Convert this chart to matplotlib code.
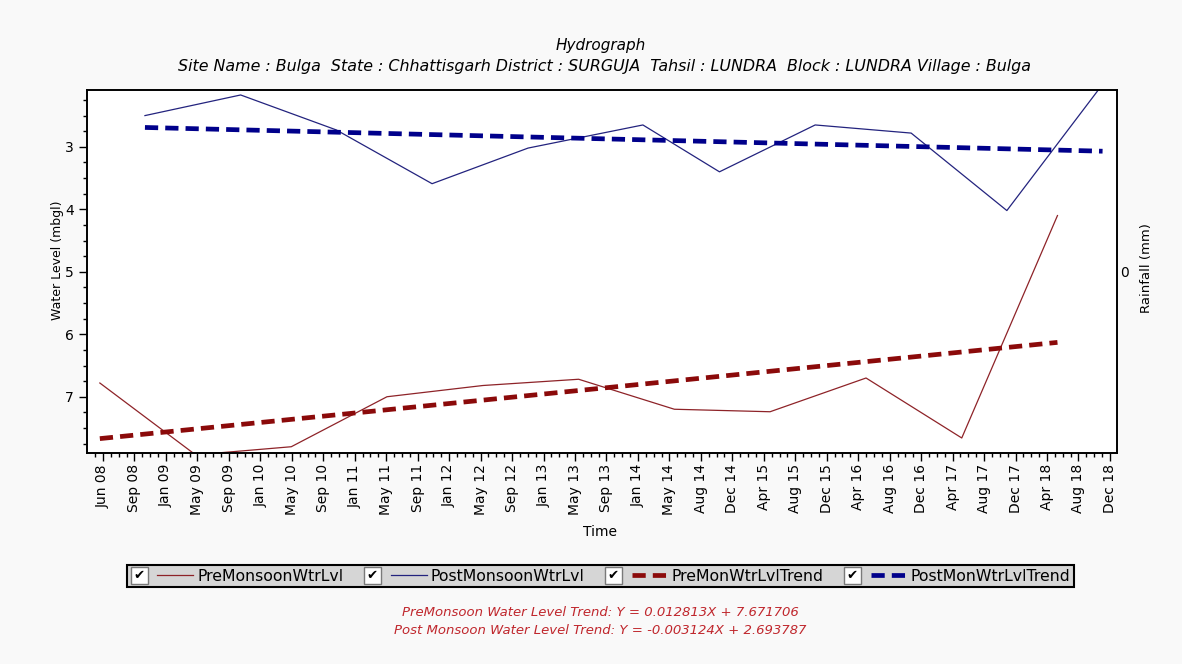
import matplotlib
matplotlib.use("Agg")
import matplotlib.pyplot as plt
import matplotlib.dates as mdates
from matplotlib.legend_handler import HandlerLine2D
from matplotlib.patches import Rectangle
from matplotlib.text import Text
import pandas as pd

# ---------------------------------------------------------------- data
pre_dates = pd.to_datetime(['2008-05-20', '2009-05-20', '2010-05-20', '2011-05-20',
                            '2012-05-20', '2013-05-20', '2014-05-20', '2015-05-20',
                            '2016-05-20', '2017-05-20', '2018-05-20'])
pre_level = [6.78, 7.93, 7.80, 7.00, 6.82, 6.72, 7.20, 7.24, 6.70, 7.66, 4.10]

post_dates = pd.to_datetime(['2008-11-08', '2009-11-08', '2010-11-08', '2011-11-08',
                             '2012-11-08', '2014-01-20', '2014-11-08', '2015-11-08',
                             '2016-11-08', '2017-11-08', '2018-11-08'])
post_level = [2.50, 2.17, 2.73, 3.59, 3.02, 2.65, 3.40, 2.65, 2.78, 4.02, 2.00]

# trend lines, end points
pre_trend_dates = pd.to_datetime(['2008-05-20', '2018-05-20'])
pre_trend = [7.67, 6.13]
post_trend_dates = pd.to_datetime(['2008-11-08', '2018-11-08'])
post_trend = [2.69, 3.07]

labels = ['PreMonsoonWtrLvl', 'PostMonsoonWtrLvl', 'PreMonWtrLvlTrend', 'PostMonWtrLvlTrend']
eq_pre = 'PreMonsoon Water Level Trend: Y = 0.012813X + 7.671706'
eq_post = 'Post Monsoon Water Level Trend: Y = -0.003124X + 2.693787'
title = 'Hydrograph'
subtitle = ('Site Name : Bulga  State : Chhattisgarh District : SURGUJA  '
            'Tahsil : LUNDRA  Block : LUNDRA Village : Bulga')

# ---------------------------------------------------------------- style
pre_col = '#8e2328'
pre_trend_col = '#8b0a0a'
post_col = '#23237e'
post_trend_col = '#00008b'
eq_col = '#c0272d'

plt.rcParams['font.family'] = ['DejaVu Sans']

fig = plt.figure(figsize=(11.82, 6.64), dpi=100, facecolor='#f9f9f9')
ax = fig.add_axes([0.0736, 0.3178, 0.8714, 0.5467])
ax.set_facecolor('white')

ax.plot(pre_dates, pre_level, color=pre_col, lw=0.9, label=labels[0])
ax.plot(post_dates, post_level, color=post_col, lw=0.9, label=labels[1])
ax.plot(pre_trend_dates, pre_trend, color=pre_trend_col, lw=3.4,
        dashes=(2.8, 1.5), label=labels[2])
ax.plot(post_trend_dates, post_trend, color=post_trend_col, lw=3.4,
        dashes=(2.8, 1.5), label=labels[3])

ax.set_ylim(7.9, 2.09)
ax.set_yticks([3, 4, 5, 6, 7])
ax.set_yticks([2.25, 2.5, 2.75, 3.25, 3.5, 3.75, 4.25, 4.5, 4.75, 5.25, 5.5, 5.75,
               6.25, 6.5, 6.75, 7.25, 7.5, 7.75], minor=True)

ax.set_xlim(pd.Timestamp('2008-04-01'), pd.Timestamp('2019-01-02'))
major = pd.date_range('2008-06-01', '2018-12-31', freq='120D')
minor = pd.date_range('2008-05-02', '2018-12-31', freq='30D')
ax.set_xticks(mdates.date2num(major))
ax.set_xticks(mdates.date2num(minor), minor=True)
ax.xaxis.set_major_formatter(mdates.DateFormatter('%b %y'))
plt.setp(ax.get_xticklabels(), rotation=90)

ax.tick_params(axis='both', which='major', length=6, width=1, labelsize=10, direction='out')
ax.tick_params(axis='both', which='minor', length=3, width=1, direction='out')
ax.tick_params(axis='x', pad=2)
for s in ax.spines.values():
    s.set_linewidth(1.2)

ax.set_xlabel('Time', fontsize=10)
ax.xaxis.label.set_va('center')
ax.xaxis.set_label_coords(0.498, -0.2176)
ax.set_ylabel('Water Level (mbgl)', fontsize=9)
ax.yaxis.label.set_va('center')
ax.yaxis.set_label_coords(-0.0291, 0.532)

# rainfall axis (empty)
ax2 = ax.twinx()
ax2.set_ylim(-1, 1)
ax2.set_yticks([0])
ax2.tick_params(axis='y', length=0, labelsize=10, pad=2)
ax2.set_ylabel('Rainfall (mm)', fontsize=9.5)
ax2.yaxis.label.set_va('center')
ax2.yaxis.set_label_coords(1.029, 0.51)
for s in ax2.spines.values():
    s.set_linewidth(1.2)

fig.text(0.508, 0.932, title, ha='center', va='center', fontsize=11, style='italic')
fig.text(0.511, 0.9006, subtitle, ha='center', va='center', fontsize=11.4, style='italic')


# legend entries with a check box in front of the line sample
class CheckHandler(HandlerLine2D):
    def create_artists(self, legend, orig_handle, xdescent, ydescent, width, height,
                       fontsize, trans):
        cb = fontsize * 1.08
        gap = fontsize * 0.62
        yc = -ydescent + height / 2
        box = Rectangle((-xdescent, yc - cb / 2), cb, cb, facecolor='white',
                        edgecolor='#7a7a7a', lw=1.0, transform=trans)
        chk = Text(-xdescent + cb / 2, yc, '\u2714', ha='center', va='center',
                   fontsize=fontsize * 0.85, color='black', transform=trans)
        arts = super().create_artists(legend, orig_handle, xdescent - cb - gap, ydescent,
                                      width - cb - gap, height, fontsize, trans)
        return [box, chk] + arts


handles = ax.get_lines()
leg = fig.legend(handles, labels, loc='center', bbox_to_anchor=(0.508, 0.1325), ncol=4,
                 fontsize=11.3, frameon=True, fancybox=False, framealpha=1,
                 facecolor='#d6d6d6', edgecolor='black', handlelength=4.0,
                 handletextpad=0.25, columnspacing=1.3, borderpad=0.25,
                 handler_map={h: CheckHandler() for h in handles})
leg.get_frame().set_linewidth(1.5)

fig.text(0.508, 0.0783, eq_pre, ha='center', va='center', fontsize=9.5,
         style='italic', color=eq_col)
fig.text(0.508, 0.0512, eq_post, ha='center', va='center', fontsize=9.5,
         style='italic', color=eq_col)

fig.savefig('out.png', dpi=100, facecolor=fig.get_facecolor())
